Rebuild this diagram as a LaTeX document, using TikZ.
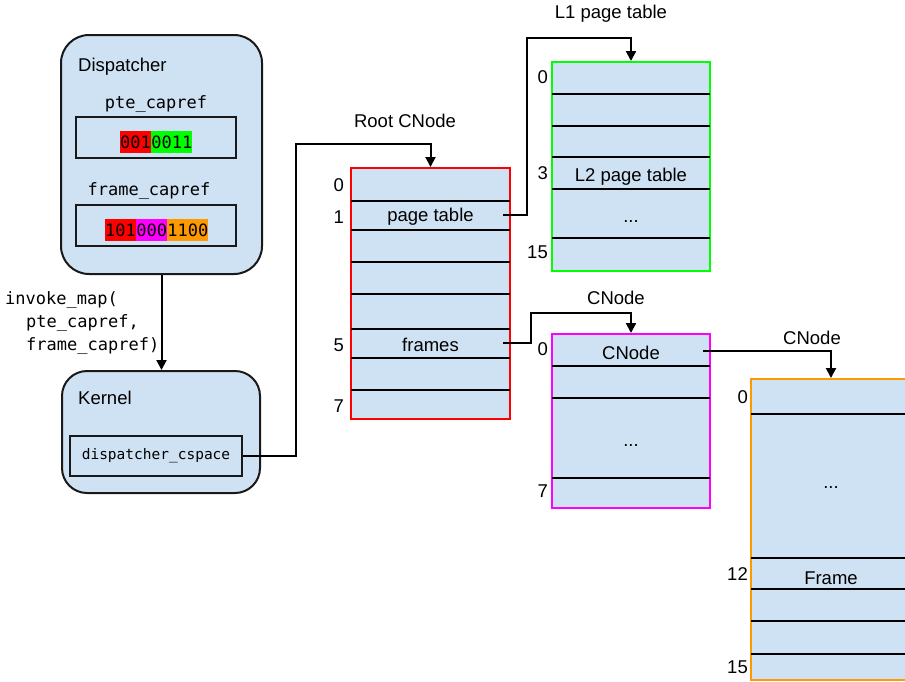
\documentclass[tikz,border=0pt]{standalone}
\usepackage{fontspec}
\setmainfont{Liberation Sans}
\setmonofont{DejaVu Sans Mono}
\usetikzlibrary{positioning,arrows.meta}

\definecolor{cellblue}{HTML}{CFE2F3}
\definecolor{capred}{HTML}{FF0000}
\definecolor{capgreen}{HTML}{00FF00}
\definecolor{capmagenta}{HTML}{FF00FF}
\definecolor{caporange}{HTML}{FF9900}

\begin{document}
\begin{tikzpicture}[
  x=1pt, y=-1pt,
  every node/.style={font=\fontsize{18.5}{22}\selectfont},
  proc/.style={draw=black!90, line width=2pt, fill=cellblue, rounded corners=28pt, inner sep=0pt},
  refbox/.style={draw=black!90, line width=2pt, fill=cellblue, inner sep=0pt},
  slots/.style={line width=2pt, fill=cellblue, inner sep=0pt},
  slotline/.style={line width=2pt},
  idx/.style={anchor=east, inner sep=0pt},
  bits/.style={font=\fontsize{17}{20}\ttfamily, inner sep=0pt, minimum height=22pt},
  ptr/.style={line width=2pt, -{Triangle[length=10pt,width=10pt]}}
]
  \useasboundingbox (0,0) rectangle (905,681);
  \clip (0,0) rectangle (905,681);

  % Dispatcher
  \node[proc, minimum width=201pt, minimum height=239pt] (dispatcher) at (161.5,154.5) {};
  \node[anchor=west, inner sep=0pt] (displbl) at (78,67) {Dispatcher};
  \node[font=\fontsize{17}{20}\ttfamily] (ptelbl) at (156,104) {pte\_capref};
  \node[refbox, minimum width=160pt, minimum height=41pt] (ptebox) at (156,137.5) {};
  \node[bits, fill=capred, anchor=west] (pteA) at (120,142) {001};
  \node[bits, fill=capgreen, anchor=west] (pteB) at (pteA.east) {0011};
  \node[font=\fontsize{17}{20}\ttfamily] (framelbl) at (149,191) {frame\_capref};
  \node[refbox, minimum width=160pt, minimum height=41pt] (framebox) at (156,225.5) {};
  \node[bits, fill=capred, anchor=west] (frA) at (105,230) {101};
  \node[bits, fill=capmagenta, anchor=west] (frB) at (frA.east) {000};
  \node[bits, fill=caporange, anchor=west] (frC) at (frB.east) {1100};

  % Kernel
  \node[proc, rounded corners=25pt, minimum width=198pt, minimum height=122pt] (kernel) at (161,432) {};
  \node[anchor=west, inner sep=0pt] (kernlbl) at (78,398) {Kernel};
  \node[refbox, minimum width=172pt, minimum height=40pt, font=\fontsize{14.5}{17}\ttfamily] (dcs) at (156,456) {dispatcher\_cspace};

  \draw[ptr] (dispatcher.south) -- (dispatcher.south |- kernel.north);
  \node[anchor=north west, align=left, inner sep=0pt, font=\fontsize{17}{23}\ttfamily] (invoke) at (5,291)
    {invoke\_map(\\\hspace*{21pt}pte\_capref,\\\hspace*{21pt}frame\_capref)};

  % Root CNode
  \node (rootlbl) at (405,121) {Root CNode};
  \node[slots, draw=capred, minimum width=159pt, minimum height=251pt] (root) at (430.5,293.5) {};
  \draw[slotline] (351,201) -- (510,201) (351,230) -- (510,230) (351,262) -- (510,262)
    (351,294) -- (510,294) (351,329) -- (510,329) (351,358) -- (510,358) (351,390) -- (510,390);
  \node[idx] (r0) at (344,185) {0};
  \node[idx] (r1) at (344,217) {1};
  \node[idx] (r5) at (344,345) {5};
  \node[idx] (r7) at (344,406) {7};
  \node (ptslotlbl) at (430.5,217) {page table};
  \node (frslotlbl) at (430.5,345) {frames};

  % L1 page table
  \node (l1lbl) at (611,14) {L1 page table};
  \node[slots, draw=capgreen, minimum width=158pt, minimum height=209pt] (l1) at (631,166.5) {};
  \draw[slotline] (552,94) -- (710,94) (552,126) -- (710,126) (552,157) -- (710,157)
    (552,189) -- (710,189) (552,238) -- (710,238);
  \node[idx] (p0) at (548,77) {0};
  \node[idx] (p3) at (548,173) {3};
  \node[idx] (p15) at (548,252) {15};
  \node (l2slot) at (631,177) {L2 page table};
  \node (l1dots) at (631,222) {...};

  % CNode
  \node (cn1lbl) at (616,298) {CNode};
  \node[slots, draw=capmagenta, minimum width=158pt, minimum height=174pt] (cn1) at (631,421) {};
  \draw[slotline] (552,366) -- (710,366) (552,398) -- (710,398) (552,478) -- (710,478);
  \node[idx] (c0) at (548,349) {0};
  \node[idx] (c7) at (548,491) {7};
  \node (cnslotlbl) at (631,353) {CNode};
  \node (cn1dots) at (631,446) {...};

  % CNode with frames
  \node (cn2lbl) at (812,338) {CNode};
  \node[slots, draw=caporange, minimum width=160pt, minimum height=301pt] (cn2) at (831,529.5) {};
  \draw[slotline] (751,414) -- (911,414) (751,558) -- (911,558) (751,589) -- (911,589)
    (751,621) -- (911,621) (751,654) -- (911,654);
  \node[idx] (f0) at (748,397) {0};
  \node[idx] (f12) at (748,574) {12};
  \node[idx] (f15) at (748,667) {15};
  \node (cn2dots) at (831,488) {...};
  \node (frameslot) at (831,578) {Frame};

  % pointers
  \coordinate (rootbend) at (296,144);
  \draw[ptr] (dcs.east) -| (rootbend) -| (root.north);
  \coordinate (ptslot) at (503,215);
  \coordinate (ptbend) at (527,38);
  \draw[ptr] (ptslot) -| (ptbend) -| (l1.north);
  \coordinate (frslot) at (503,343);
  \coordinate (frbend) at (531,313);
  \draw[ptr] (frslot) -| (frbend) -| (cn1.north);
  \coordinate (cnslot) at (703,351);
  \draw[ptr] (cnslot) -| (cn2.north);
\end{tikzpicture}
\end{document}
